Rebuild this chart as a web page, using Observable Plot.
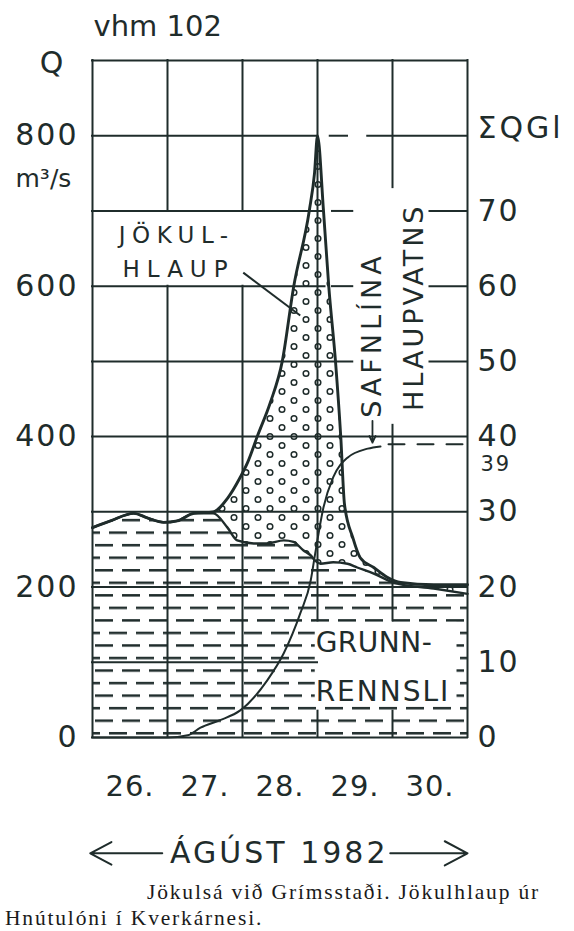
<!DOCTYPE html>
<html><head><meta charset="utf-8">
<script src="https://cdn.jsdelivr.net/npm/d3@7"></script>
<script src="https://cdn.jsdelivr.net/npm/@observablehq/plot@0.6"></script>
<style>
html,body{margin:0;padding:0;background:#fff;}
#wrap{position:relative;width:574px;height:931px;overflow:hidden;background:#fff;}
#chart{position:absolute;left:0;top:0;}
#caption{position:absolute;left:5px;top:879px;font-family:"Liberation Serif",serif;font-size:21.5px;line-height:26px;color:#1a1a1a;white-space:nowrap;}
</style></head><body>
<div id="wrap"><div id="chart"></div><div id="caption"></div></div>
<script>
const ink = "#1f2c2b";

// ---- data ----
// total discharge Q (m3/s), days of August 1982
const totalDays = [26.00, 26.24, 26.55, 26.73, 26.95, 27.13, 27.35, 27.61, 27.80, 27.97, 28.07, 28.20, 28.37, 28.53, 28.68, 28.89, 28.96, 29.00, 29.08, 29.15, 29.24, 29.31, 29.36, 29.47, 29.57, 29.75, 29.93, 30.11, 30.55, 31.00];
const totalQ    = [279, 288, 298, 292, 286, 288, 298, 300, 318, 346, 366, 401, 445, 500, 598, 700, 750, 800, 700, 600, 500, 400, 310, 266, 239, 226, 213, 206, 203, 203];
// base flow (grunnrennsli)
const baseDays = [26.00, 26.24, 26.55, 26.73, 26.95, 27.13, 27.35, 27.61, 27.80, 27.93, 28.15, 28.33, 28.55, 28.68, 28.81, 28.91, 28.97, 29.04, 29.21, 29.40, 29.53, 29.75, 30.01, 30.55, 31.00];
const baseQ    = [279, 288, 298, 292, 286, 288, 298, 298, 279, 262, 258, 258, 262, 260, 249, 242, 235, 231, 233, 231, 226, 218, 206, 198, 191];
// cumulative flood volume (safnlína hlaupvatns), Gl
const cumDays = [26.00, 27.00, 27.27, 27.44, 27.70, 27.97, 28.33, 28.55, 28.77, 28.91, 28.97, 29.08, 29.21, 29.40, 29.67, 29.84];
const cumGL   = [0, 0, 0.3, 1.3, 2.3, 3.6, 7.6, 11.2, 16.5, 20.9, 24.5, 30.6, 34.6, 37.2, 38.4, 38.7];
const plateauDays = [29.84, 31.00];
const finalVolume = 39;

// axes
const leftTicks = [0, 200, 400, 600, 800];
const rightTicksGL = [0, 10, 20, 30, 40, 50, 60, 70];
const days = [26, 27, 28, 29, 30];
const dayLabels = ["26.", "27.", "28.", "29.", "30."];
const monthLabel = ["ÁGÚST 1982"];
const titleText = ["vhm 102"];
const leftTitle = ["Q"];
const leftUnit = ["m³/s"];
const rightTitle = ["ΣQGl"];
const captionLines = ["Jökulsá við Grímsstaði. Jökulhlaup úr", "Hnútulóni í Kverkárnesi."];

// grid segments of the drawing (Q level, day span) and (day, Q span)
const gridRows = [
  {q: 900, d1: 26, d2: 31},
  {q: 800, d1: 26, d2: 29.0}, {q: 800, d1: 29.17, d2: 29.4}, {q: 800, d1: 29.67, d2: 31},
  {q: 700, d1: 26, d2: 29.07}, {q: 700, d1: 29.2, d2: 29.47}, {q: 700, d1: 30.5, d2: 31},
  {q: 600, d1: 26, d2: 29.1}, {q: 600, d1: 29.2, d2: 29.47}, {q: 600, d1: 30.5, d2: 31},
  {q: 500, d1: 26, d2: 29.47}, {q: 500, d1: 30.5, d2: 31},
  {q: 400, d1: 26, d2: 31}, {q: 300, d1: 26, d2: 31}, {q: 200, d1: 26, d2: 31},
  {q: 100, d1: 26, d2: 29.0},
  {q: 0, d1: 26, d2: 31}
];
const gridCols = [
  {d: 26, q1: 0, q2: 900},
  {d: 27, q1: 0, q2: 600}, {d: 27, q1: 700, q2: 900},
  {d: 28, q1: 0, q2: 600}, {d: 28, q1: 700, q2: 900},
  {d: 29, q1: 155, q2: 900}, {d: 29, q1: 0, q2: 35},
  {d: 30, q1: 731, q2: 900}, {d: 30, q1: 155, q2: 415}, {d: 30, q1: 0, q2: 35},
  {d: 31, q1: 0, q2: 900}
];
// annotations
const blankBoxes = [{d1: 28.97, d2: 30.86, q1: 41, q2: 153}];
const jokulLabel = [{t: "JÖKUL-", d: 26.35, q: 657}, {t: "HLAUP", d: 26.40, q: 612}];
const grunnLabel = [{t: "GRUNN-", d: 28.975, q: 113}, {t: "RENNSLI", d: 28.975, q: 49}];
const safnLabel = [{t: "SAFNLÍNA", d: 29.733, q: 535}, {t: "HLAUPVATNS", d: 30.287, q: 572}];
const leader = [{d1: 28.01, q1: 618, d2: 28.77, q2: 561}];
const safnArrow = [{d: 29.733, q1: 421, q2: 392}];
const monthArrows = [{x1: 26.93, x2: 25.97, q: -154}, {x1: 29.97, x2: 31.0, q: -154}];
const monthPos = [{d: 28.49, q: -167}];

const total = totalDays.map((d, i) => ({d, q: totalQ[i]}));
const base = baseDays.map((d, i) => ({d, q: baseQ[i]}));
const cum = cumDays.map((d, i) => ({d, gl: cumGL[i]}));
const plateau = plateauDays.map(d => ({d, gl: finalVolume}));

const curve = "monotone-x";

const svg = Plot.plot({
  width: 574, height: 880,
  marginLeft: 92, marginRight: 107, marginTop: 60, marginBottom: 143,
  x: {domain: [26, 31]},
  y: {domain: [0, 900]},
  style: {fontFamily: "DejaVu Sans", color: ink, background: "white", overflow: "visible"},
  marks: [
    Plot.areaY(total, {x: "d", y: "q", fill: "url(#dots)", curve}),
    Plot.areaY(base, {x: "d", y: "q", fill: "white", curve}),
    Plot.areaY(base, {x: "d", y: "q", fill: "url(#dashes)", curve}),
    Plot.rect(blankBoxes, {x1: "d1", x2: "d2", y1: "q1", y2: "q2", fill: "white"}),
    Plot.ruleY(gridRows, {y: "q", x1: "d1", x2: "d2", stroke: ink, strokeWidth: 2, strokeLinecap: "square"}),
    Plot.ruleX(gridCols, {x: "d", y1: "q1", y2: "q2", stroke: ink, strokeWidth: 2, strokeLinecap: "square"}),
    Plot.line(base, {x: "d", y: "q", stroke: ink, strokeWidth: 2.4, curve}),
    Plot.line(total, {x: "d", y: "q", stroke: ink, strokeWidth: 2.9, curve}),
    Plot.line(cum, {x: "d", y: r => r.gl * 10, stroke: ink, strokeWidth: 2, curve}),
    Plot.line(plateau, {x: "d", y: r => r.gl * 10, stroke: ink, strokeWidth: 2, strokeDasharray: "16,13", strokeDashoffset: -8}),
    Plot.link(leader, {x1: "d1", y1: "q1", x2: "d2", y2: "q2", stroke: ink, strokeWidth: 2}),
    Plot.arrow(safnArrow, {x1: "d", x2: "d", y1: "q1", y2: "q2", stroke: ink, strokeWidth: 1.8, headLength: 8, headAngle: 50}),
    Plot.arrow(monthArrows, {x1: "x1", x2: "x2", y1: "q", y2: "q", stroke: ink, strokeWidth: 2, headLength: 27, headAngle: 56}),
    Plot.text(monthPos, {x: "d", y: "q", text: () => monthLabel[0], fontSize: 30, lineAnchor: "bottom", fill: ink}),
    Plot.text(jokulLabel, {x: "d", y: "q", text: "t", textAnchor: "start", lineAnchor: "bottom", fontSize: 23, fill: ink}),
    Plot.text(grunnLabel, {x: "d", y: "q", text: "t", textAnchor: "start", lineAnchor: "bottom", fontSize: 28, fill: ink}),
    Plot.text(safnLabel, {x: "d", y: "q", text: "t", rotate: -90, fontSize: 27, fill: ink}),
    Plot.text([finalVolume], {x: () => 31, y: v => v * 10, text: v => String(v), dx: 13, dy: 27, textAnchor: "start", lineAnchor: "bottom", fontSize: 21, fill: ink}),
    Plot.text(titleText, {frameAnchor: "top-left", textAnchor: "start", lineAnchor: "bottom", dx: 1, dy: -25, fontSize: 29, fill: ink}),
    Plot.text(leftTitle, {frameAnchor: "top-left", textAnchor: "middle", lineAnchor: "bottom", dx: -41, dy: 12, fontSize: 30, fill: ink}),
    Plot.text(leftUnit, {frameAnchor: "top-left", textAnchor: "start", lineAnchor: "bottom", dx: -77, dy: 126, fontSize: 25, fill: ink}),
    Plot.text(rightTitle, {frameAnchor: "top-right", textAnchor: "start", lineAnchor: "bottom", dx: 10, dy: 77, fontSize: 30, fill: ink}),
    Plot.axisY(leftTicks, {anchor: "left", tickSize: 0, tickPadding: 14, fontSize: 30, label: null}),
    Plot.axisY(rightTicksGL.map(v => v * 10), {anchor: "right", tickSize: 0, tickPadding: 10, fontSize: 30, label: null, tickFormat: q => String(q / 10)}),
    Plot.axisX(days.map(d => d + 0.5), {anchor: "bottom", tickSize: 0, tickPadding: 38, fontSize: 29, label: null, tickFormat: v => dayLabels[days.indexOf(v - 0.5)]})
  ]
});

// patterns for the hatched areas
const defs = d3.select(svg).insert("defs", ":first-child");
const dots = defs.append("pattern").attr("id", "dots").attr("patternUnits", "userSpaceOnUse")
  .attr("width", 24).attr("height", 18);
dots.append("rect").attr("width", 24).attr("height", 18).attr("fill", "white");
[[6, 4.5], [18, 13.5]].forEach(([cx, cy]) =>
  dots.append("circle").attr("cx", cx).attr("cy", cy).attr("r", 2.8)
    .attr("fill", "white").attr("stroke", ink).attr("stroke-width", 1.5));
const rowH = 75.222 / 6;
const dashes = defs.append("pattern").attr("id", "dashes").attr("patternUnits", "userSpaceOnUse")
  .attr("width", 27).attr("height", rowH * 2);
dashes.append("rect").attr("width", 27).attr("height", rowH * 2).attr("fill", "white");
const yA = 6.1, yB = 6.1 + rowH;
[[1, 19, yA], [14, 27, yB], [0, 5, yB]].forEach(([x1, x2, y]) =>
  dashes.append("line").attr("x1", x1).attr("x2", x2).attr("y1", y).attr("y2", y)
    .attr("stroke", ink).attr("stroke-width", 2.5));

// letter spacing of the lettering-template text (by text content)
const spacingFor = {
  "JÖKUL-": 6.5, "HLAUP": 7, "GRUNN-": 0.5, "RENNSLI": 2,
  "SAFNLÍNA": 4, "HLAUPVATNS": 3, "ÁGÚST 1982": 3, "ΣQGl": 3
};
svg.querySelectorAll("text").forEach(n => {
  const t = n.textContent;
  let v = spacingFor[t];
  if (v === undefined && /^[0-9]+$/.test(t)) v = 2;
  if (v === undefined && /^[0-9]+\.$/.test(t)) v = 1;
  if (v !== undefined) n.style.letterSpacing = v + "px";
});

document.getElementById("chart").appendChild(svg);

// caption (HTML below the chart); letter spacing fitted so line 1 spans its width in the original
const cap = document.getElementById("caption");
const l1 = document.createElement("div");
l1.style.paddingLeft = "142px";
const s1 = document.createElement("span");
s1.textContent = captionLines[0];
l1.appendChild(s1);
const l2 = document.createElement("div");
l2.textContent = captionLines[1];
cap.appendChild(l1); cap.appendChild(l2);
const natural = s1.getBoundingClientRect().width;
const lsp = Math.min(2.5, Math.max(0, (393 - natural) / captionLines[0].length));
cap.style.letterSpacing = lsp + "px";
</script>
</body></html>
